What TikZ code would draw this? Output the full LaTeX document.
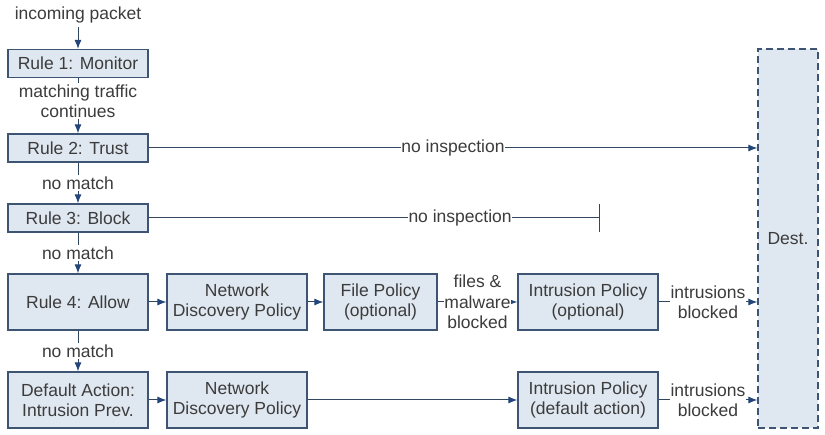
\documentclass[tikz,border=0pt]{standalone}
\usepackage{fontspec}
\setmainfont{Liberation Sans}
\usetikzlibrary{arrows.meta}
\definecolor{boxfill}{HTML}{DFE7F0}
\definecolor{boxline}{HTML}{3E5473}
\definecolor{flowline}{HTML}{33465F}
\definecolor{tipblue}{HTML}{23467A}
\definecolor{txtgrey}{HTML}{3C3C3C}

\begin{document}
\begin{tikzpicture}[x=1pt,y=-1pt,
		every node/.style={font=\fontsize{17.5}{20.5}\selectfont, text=txtgrey},
		rulebox/.style={draw=boxline, fill=boxfill, line width=1.2pt, minimum width=140pt, align=center, inner sep=0pt},
		onebox/.style={rulebox, minimum height=28pt},
		twobox/.style={rulebox, minimum height=56pt},
		flow/.style={draw=flowline, line width=1pt, -{Latex[length=9pt,width=7pt,color=tipblue]}},
		plain/.style={draw=flowline, line width=1pt},
		tag/.style={fill=white, inner xsep=0.8pt, inner ysep=1.5pt, align=center}]
			\useasboundingbox (0,0) rectangle (825,435);
			% rules on the left
			\node (inc) at (78,15) {incoming packet};
			\node[onebox] (rone) at (78,63.5) {Rule 1: Monitor};
			\node[onebox] (rtwo) at (78,148) {Rule 2: Trust};
			\node[onebox] (rthree) at (78,218) {Rule 3: Block};
			\node[twobox] (rfour) at (78,302) {Rule 4: Allow};
			\node[twobox] (dflt) at (78,400) {Default Action:\\Intrusion Prev.};
			% policies
			\node[twobox] (ndpa) at (237,302) {Network\\Discovery Policy};
			\node[twobox] (ndpb) at (237,400) {Network\\Discovery Policy};
			\node[twobox, minimum width=113pt] (file) at (380.5,302) {File Policy\\(optional)};
			\node[twobox] (ipsa) at (588,302) {Intrusion Policy\\(optional)};
			\node[twobox] (ipsb) at (588,400) {Intrusion Policy\\(default action)};
			\node[rulebox, minimum width=60pt, minimum height=379pt, dash pattern=on 7pt off 4pt] (dest) at (788,238.5) {Dest.};
			\coordinate (blk) at (600,218);
			% connectors
			\draw[flow] (inc) -- (rone);
			\draw[flow] (rone) -- (rtwo) node[tag, pos=0.42] {matching traffic\\continues};
			\draw[flow] (rtwo) -- (rthree) node[tag, midway] {no match};
			\draw[flow] (rthree) -- (rfour) node[tag, midway] {no match};
			\draw[flow] (rfour) -- (dflt) node[tag, midway] {no match};
			\draw[flow] (rtwo) -- (rtwo -| dest.west) node[tag, pos=0.5] {no inspection};
			\draw[plain, -{Bar[width=28pt]}] (rthree) -- (blk) node[tag, pos=0.69] {no inspection};
			\draw[flow] (rfour) -- (ndpa);
			\draw[flow] (ndpa) -- (file);
			\draw[flow] (file) -- (ipsa) node[tag, midway] {files \&\\malware\\blocked};
			\draw[flow] (ipsa) -- (ipsa -| dest.west) node[tag, midway] {intrusions\\blocked};
			\draw[flow] (dflt) -- (ndpb);
			\draw[flow] (ndpb) -- (ipsb);
			\draw[flow] (ipsb) -- (ipsb -| dest.west) node[tag, midway] {intrusions\\blocked};
		\end{tikzpicture}
\end{document}
